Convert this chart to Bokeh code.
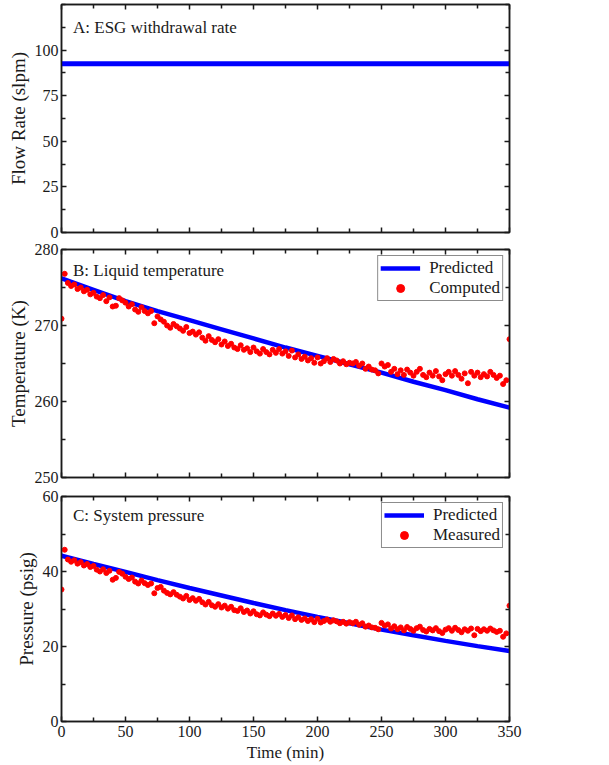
import numpy as np
from bokeh.plotting import figure
from bokeh.models import (Range1d, LinearAxis, FixedTicker, Label, Legend, LegendItem,
                          CustomJSTickFormatter)
from bokeh.layouts import column
from bokeh.embed import file_html
from bokeh.resources import INLINE

FONT = "Liberation Serif"
TXT = "#1a1a1a"

# ---------------- data ----------------
time_ticks = [0, 50, 100, 150, 200, 250, 300, 350]
time_minor = [25, 75, 125, 175, 225, 275, 325]
flow_ticks = [0, 25, 50, 75, 100]
flow_minor = [12.5, 37.5, 62.5, 87.5, 112.5, 125]
temp_ticks = [250, 260, 270, 280]
temp_minor = [255, 265, 275]
press_ticks = [0, 20, 40, 60]
press_minor = [10, 30, 50]

flow_time = [0, 350]
flow_rate = [92.5, 92.5]

pred_time = [0, 25, 50, 75, 100, 125, 150, 175, 200, 225, 250, 275, 300, 325, 350]
temp_pred = [276.2, 274.7, 273.2, 271.9, 270.7, 269.5, 268.3, 267.1, 266.0,
             264.9, 263.8, 262.6, 261.5, 260.3, 259.2]
press_pred = [44.2, 42.0, 39.9, 37.7, 35.6, 33.6, 31.6, 29.7, 27.9,
              26.2, 24.5, 23.0, 21.5, 20.1, 18.8]

temp_comp = [
    270.9, 276.8, 275.6, 275.2, 275.4, 274.8, 275.0, 274.5, 274.7, 274.1,
    274.3, 273.8, 273.6, 274.0, 273.2, 273.7, 272.5, 272.6, 273.6, 273.3,
    273.0, 272.5, 272.8, 272.1, 271.8, 272.4, 271.9, 271.6, 271.9, 270.3,
    271.2, 270.8, 270.5, 270.0, 269.7, 270.2, 269.9, 269.6, 269.3, 269.8,
    269.0, 269.2, 268.8, 269.1, 268.4, 268.0, 268.6, 268.1, 267.8, 268.2,
    267.5, 267.9, 267.3, 267.6, 267.1, 266.9, 267.4, 266.8, 267.0, 266.5,
    267.1, 266.6, 266.3, 266.9, 266.5, 266.2, 266.8, 266.4, 266.9, 266.3,
    266.6, 266.0, 266.7, 265.8, 266.2, 265.6, 265.9, 265.4, 265.7, 265.1,
    265.8, 265.0, 265.3, 265.7, 265.2, 265.6, 265.4, 265.0, 265.3, 264.9,
    265.1, 265.0, 265.2, 264.7, 265.0, 264.3, 264.6, 264.2, 264.1, 263.7,
    265.0, 264.6, 264.8, 263.9, 264.3, 263.6, 264.1, 263.5, 264.2, 263.8,
    263.4, 263.9, 264.3, 263.5, 263.2, 263.8, 263.4, 264.0, 263.3, 262.8,
    263.6, 263.9, 263.4, 264.0, 263.5, 263.0, 263.7, 262.4, 263.9, 263.4,
    263.8, 263.2, 263.6, 263.3, 263.9, 263.5, 263.1, 263.4, 262.3, 262.8,
    268.2]

press_meas = [
    35.2, 45.8, 43.2, 42.6, 43.0, 42.1, 42.5, 41.6, 42.0, 41.2,
    41.5, 40.5, 40.0, 40.6, 39.6, 40.2, 37.8, 38.3, 39.9, 39.4,
    38.6, 38.0, 38.4, 37.3, 36.8, 37.6, 36.9, 36.4, 36.8, 34.2,
    35.6, 35.9, 34.9, 34.3, 33.9, 34.5, 33.8, 33.3, 32.8, 33.5,
    32.4, 32.9, 32.2, 32.7, 31.8, 31.2, 31.9, 31.0, 30.6, 31.3,
    30.4, 30.9, 30.1, 30.6, 29.7, 29.5, 30.2, 29.2, 29.6, 28.8,
    29.4, 28.6, 28.3, 29.1, 28.5, 28.1, 28.8, 28.2, 28.7, 27.9,
    28.4, 27.6, 28.3, 27.3, 27.8, 27.1, 27.5, 26.8, 27.3, 26.5,
    27.4, 26.4, 26.8, 27.2, 26.6, 27.0, 26.7, 26.2, 26.6, 26.1,
    26.5, 26.2, 26.6, 25.8, 26.2, 25.3, 25.6, 25.1, 25.0, 24.6,
    26.3, 25.6, 25.9, 24.8, 25.4, 24.6, 25.1, 24.3, 25.2, 24.7,
    24.2, 24.9, 25.3, 24.4, 24.0, 24.7, 24.3, 24.9, 24.1, 23.6,
    24.5, 24.9, 24.2, 25.0, 24.4, 23.8, 24.6, 24.2, 24.8, 23.0,
    24.7, 24.1, 24.6, 24.2, 24.8, 24.3, 23.9, 24.2, 22.6, 23.5,
    30.9]

temp_time = [2.5 * i for i in range(len(temp_comp))]
press_time = [2.5 * i for i in range(len(press_meas))]

BLUE = "#0000ff"
RED = "#ff0000"


def add_axis(p, side, ticks, minor, show_labels, label=None):
    ax = LinearAxis(ticker=FixedTicker(ticks=ticks, minor_ticks=minor))
    ax.major_tick_in = 5
    ax.major_tick_out = 0
    ax.minor_tick_in = 4
    ax.minor_tick_out = 0
    ax.axis_line_color = TXT
    ax.axis_line_width = 1.5
    ax.major_tick_line_color = TXT
    ax.major_tick_line_width = 1.5
    ax.minor_tick_line_color = TXT
    ax.minor_tick_line_width = 1.5
    ax.major_label_text_font = FONT
    ax.major_label_text_font_size = "16px"
    ax.major_label_text_color = TXT
    ax.major_label_standoff = 3 if side == "left" else 4
    if not show_labels:
        ax.formatter = CustomJSTickFormatter(code="return ''")
        ax.major_label_text_font_size = "0px"
        ax.major_label_standoff = 0
    if label:
        ax.axis_label = label
        ax.axis_label_text_font = FONT
        ax.axis_label_text_font_style = "normal"
        ax.axis_label_text_color = TXT
        ax.axis_label_text_font_size = "19px" if side == "left" else "17px"
        ax.axis_label_standoff = 3 if side == "left" else 3
    p.add_layout(ax, side)


def make_fig(height, top, bottom, yr, yticks, yminor, ylabel, show_x):
    p = figure(width=525, height=height, x_range=Range1d(0, 350),
               y_range=Range1d(*yr), output_backend="svg", toolbar_location=None,
               x_axis_type=None, y_axis_type=None,
               min_border_left=61, min_border_right=16,
               min_border_top=top, min_border_bottom=bottom)
    p.outline_line_color = TXT
    p.outline_line_width = 1.5
    p.background_fill_color = "white"
    p.border_fill_color = "white"
    add_axis(p, "below", time_ticks, time_minor, show_x, "Time (min)" if show_x else None)
    add_axis(p, "above", time_ticks, time_minor, False)
    add_axis(p, "left", yticks, yminor, True, ylabel)
    add_axis(p, "right", yticks, yminor, False)
    return p


def add_title(p, x, y, text):
    p.add_layout(Label(x=x, y=y, text=text, text_font=FONT, text_font_size="17px",
                       text_color=TXT, text_baseline="middle"))


def add_legend(p, r_line, r_pts, lab2):
    leg = Legend(items=[LegendItem(label="Predicted", renderers=[r_line]),
                        LegendItem(label=lab2, renderers=[r_pts])],
                 location="top_right")
    leg.label_text_font = FONT
    leg.label_text_font_size = "17px"
    leg.label_text_color = TXT
    leg.glyph_width = 40
    leg.glyph_height = 20
    leg.label_height = 19
    leg.label_standoff = 9
    leg.padding = 2
    leg.spacing = 0
    leg.margin = 6
    leg.border_line_color = TXT
    leg.border_line_width = 1.5
    leg.background_fill_alpha = 1.0
    p.add_layout(leg)


# ---------------- panel A ----------------
pA = make_fig(240, 4, 8, (0, 125), flow_ticks, flow_minor, "Flow Rate (slpm)", False)
pA.line(flow_time, flow_rate, line_color=BLUE, line_width=5)
add_title(pA, 9, 112.4, "A: ESG withdrawal rate")

# ---------------- panel B ----------------
pB = make_fig(245, 9, 8, (250, 280), temp_ticks, temp_minor, "Temperature (K)", False)
lB = pB.line(pred_time, temp_pred, line_color=BLUE, line_width=4.5)
sB = pB.scatter(temp_time, temp_comp, marker="circle", size=5, fill_color=RED, line_color=RED)
add_title(pB, 9, 277.2, "B: Liquid temperature")
add_legend(pB, lB, sB, "Computed")

# ---------------- panel C ----------------
pC = make_fig(279, 11, 43, (0, 60), press_ticks, press_minor, "Pressure (psig)", True)
lC = pC.line(pred_time, press_pred, line_color=BLUE, line_width=4.5)
sC = pC.scatter(press_time, press_meas, marker="circle", size=5, fill_color=RED, line_color=RED)
add_title(pC, 9, 55.0, "C: System pressure")
add_legend(pC, lC, sC, "Measured")

layout = column(pA, pB, pC, spacing=0)
open("out.html", "w").write(file_html(layout, INLINE))
